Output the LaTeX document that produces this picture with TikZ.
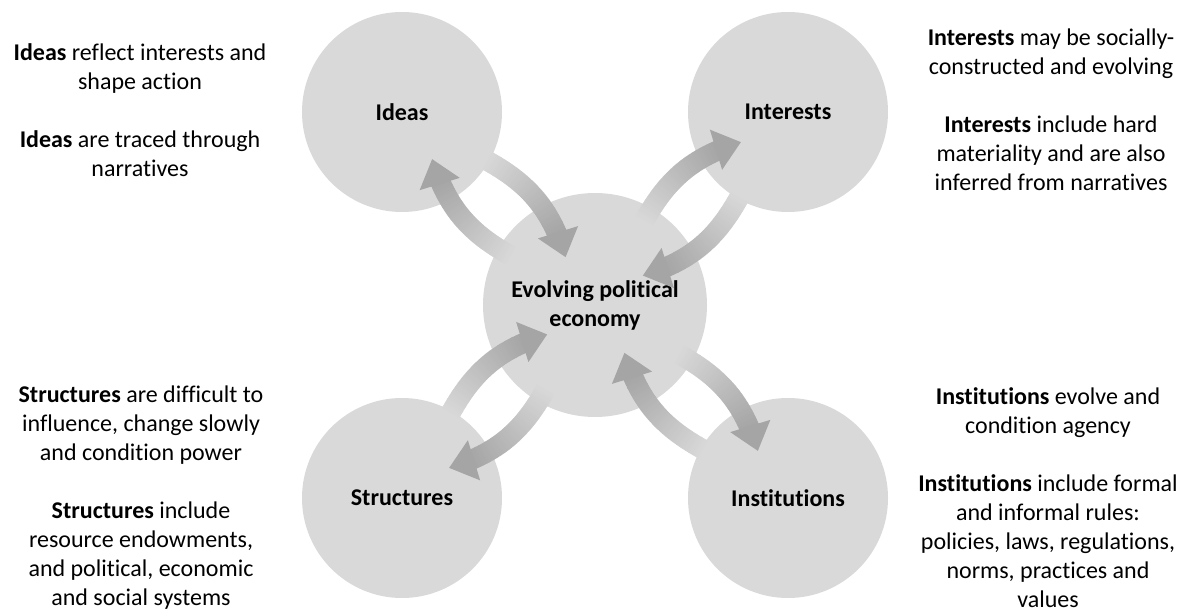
\documentclass[tikz,border=0pt]{standalone}
\usepackage{fontspec}
\setmainfont{Carlito}[Ligatures=NoCommon]
\usepackage{tikz}
\usetikzlibrary{calc, decorations.markings}
\definecolor{bubblegray}{HTML}{D9D9D9}
\definecolor{flowlight}{HTML}{D8D8D8}
\definecolor{flowdark}{HTML}{A5A5A5}

\newcommand{\diagfont}{\fontsize{24}{29}\selectfont}
\newcommand{\flowpiece}{%
  \pgfmathtruncatemacro{\flowpc}{min(100,max(0,100*(\pgfkeysvalueof{/pgf/decoration/mark info/sequence number}-1)*1.5/(\pgfdecoratedpathlength-24)))}%
  \fill[flowdark!\flowpc!flowlight] (-1.1pt,-10pt) rectangle (1.1pt,10pt);}

\begin{document}
\begin{tikzpicture}[x=1pt, y=1pt,
    every node/.style={font=\diagfont},
    bubble/.style={circle, fill=bubblegray, inner sep=0pt, minimum size=#1, align=center, font=\diagfont\bfseries},
    note/.style={align=center, text=black},
    flow/.style={decoration={markings,
        mark=between positions 0 and -22pt step 1.5pt with {\flowpiece},
        mark=at position 1 with {\fill[flowdark] (0,0) -- (-26pt,21pt) -- (-26pt,-21pt) -- cycle;}},
        decorate},
]
\useasboundingbox[fill=white] (0,0) rectangle (1189,-612);

% circles
\node[bubble=224pt] (eco) at (595,-305) {Evolving political\\economy};
\node[bubble=200pt] (ideas) at (402,-112) {Ideas};
\node[bubble=200pt] (interests) at (788,-112) {Interests};
\node[bubble=200pt] (structures) at (402,-498) {Structures};
\node[bubble=200pt] (institutions) at (788,-498) {Institutions};

% two-way arrows
\foreach \outer in {ideas, interests, structures, institutions} {
  \path[flow] ($(eco.center)!0.35!(\outer.center)!25pt!90:(\outer.center)$) to[bend left=22] ($(eco.center)!0.80!(\outer.center)!12pt!90:(\outer.center)$);
  \path[flow] ($(eco.center)!0.65!(\outer.center)!26pt!-90:(\outer.center)$) to[bend left=22] ($(eco.center)!0.20!(\outer.center)!13pt!-90:(\outer.center)$);
}

% notes
\node[note] (ideasnote) at (140,-110) {\textbf{Ideas} reflect interests and\\shape action\\[29pt]\textbf{Ideas} are traced through\\narratives};
\node[note] (interestsnote) at (1051,-110) {\textbf{Interests} may be socially-\\constructed and evolving\\[29pt]\textbf{Interests} include hard\\materiality and are also\\inferred from narratives};
\node[note] (structuresnote) at (141,-498) {\textbf{Structures} are difficult to\\influence, change slowly\\and condition power\\[29pt]\textbf{Structures} include\\resource endowments,\\and political, economic\\and social systems};
\node[note] (institutionsnote) at (1048,-498) {\textbf{Institutions} evolve and\\condition agency\\[29pt]\textbf{Institutions} include formal\\and informal rules:\\policies, laws, regulations,\\norms, practices and\\values};

\end{tikzpicture}
\end{document}
